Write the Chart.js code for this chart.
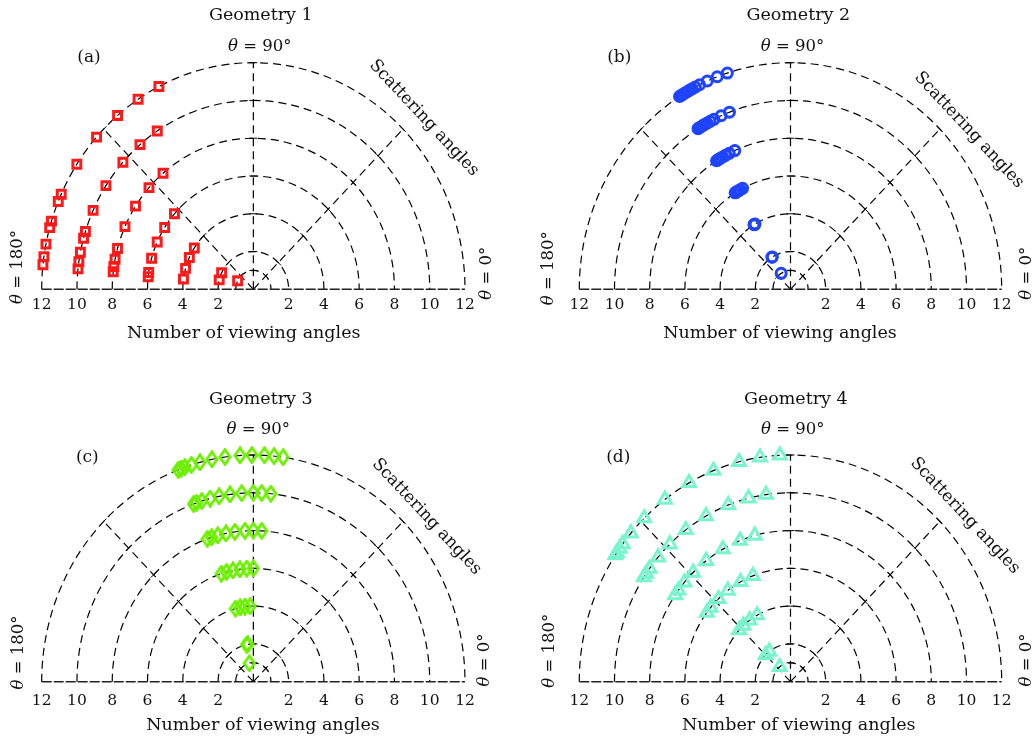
<!DOCTYPE html>
<html>
<head>
<meta charset="utf-8">
<script src="https://cdn.jsdelivr.net/npm/chart.js@4"></script>
<style>
  body { margin: 0; background: #fff; }
  #wrap { position: relative; width: 1035px; height: 739px; }
  #wrap canvas { position: absolute; }
</style>
</head>
<body>
<div id="wrap">
  <canvas id="g1" width="518" height="370" style="left:0;top:0"></canvas>
  <canvas id="g2" width="517" height="370" style="left:518px;top:0"></canvas>
  <canvas id="g3" width="518" height="369" style="left:0;top:370px"></canvas>
  <canvas id="g4" width="517" height="369" style="left:518px;top:370px"></canvas>
</div>
<script>
// number of viewing angles = radius of each ring of markers
var viewCounts = [1, 2, 4, 6, 8, 10, 12];

// scattering angles (degrees), one list per view count, same order as viewCounts
var geom1Angles = [
  [153],
  [154, 165.5],
  [146.8, 155.1, 163.9, 172.2],
  [138.2, 146.9, 155.3, 164.1, 171.5, 173.6],
  [129.8, 137.7, 146.6, 155.5, 164.3, 168.5, 171.3, 173.3],
  [123, 130, 137.7, 146.7, 155.3, 162.2, 164.3, 168.7, 171.6, 173.8],
  [116.5, 123, 129.9, 137.8, 146.5, 155.2, 157.2, 162.5, 164.2, 168.5, 171.7, 173.8]
];
var geom2Angles = [
  [122],
  [121.2, 121.8],
  [120.3, 120.6, 120.9, 121.2],
  [117, 118.5, 119.6, 120.5, 121.1, 121.6],
  [113.3, 115.8, 117.5, 118.8, 119.8, 120.6, 121.2, 121.7],
  [110.3, 113.2, 115.8, 117.2, 118.3, 119.2, 120, 120.7, 121.3, 121.7],
  [107.4, 110.3, 113.2, 115.5, 116.8, 117.8, 118.6, 119.4, 120.1, 120.8, 121.3, 121.7]
];
var geom3Angles = [
  [103],
  [99, 101],
  [92.7, 96.8, 100.8, 104.7],
  [90, 93.6, 97.3, 101.1, 104.7, 107.6],
  [86.6, 90, 93.4, 97.5, 101.2, 104.6, 107.2, 109],
  [84.3, 87.3, 90, 93.8, 97.6, 101.2, 104.2, 107, 108.8, 109.8],
  [81.9, 84.4, 87, 90.4, 93.6, 97.7, 101.3, 104.6, 107, 108.9, 110, 110.8]
];
var geom4Angles = [
  [128],
  [127, 135],
  [118.3, 125.5, 131.9, 136.8],
  [110.9, 118.2, 126.4, 133, 139.1, 142.4],
  [104.7, 111, 118.7, 126.8, 133.7, 138.9, 142.8, 145],
  [98, 103.8, 110.7, 118.7, 126.5, 133.3, 138.8, 143.2, 145.1, 146.4],
  [92.9, 98.3, 104.1, 111.4, 118.7, 126.5, 133.8, 139.1, 142.6, 144, 145.3, 146]
];

var tickValues = [-12, -10, -8, -6, -4, -2, 0, 2, 4, 6, 8, 10, 12];
var tickLabels = ['12', '10', '8', '6', '4', '2', '', '2', '4', '6', '8', '10', '12'];
var ringRadii = [1, 2, 4, 6, 8, 10, 12];
var spokeAngles = [45, 90, 135];
var panelTitles = ['Geometry 1', 'Geometry 2', 'Geometry 3', 'Geometry 4'];
var panelTags = ['(a)', '(b)', '(c)', '(d)'];

var SERIF = "'DejaVu Serif', serif";
var INK = '#111';
var axisH = 40;

// layout of each panel, canvas-local pixels
var boxes = [
  { w: 518, h: 370, x0: 41.7, x1: 465, y12: 62.7, y0: 289.3, tickPad: 6.5,
    title: [260.8, 15], tag: [89, 57.5], top90: [259.7, 46.7], scat: [424, 118],
    t180: [17.5, 267], t0: [486.7, 273.3], xlab: [243.7, 333.3] },
  { w: 517, h: 370, x0: 61.3, x1: 483.7, y12: 62.7, y0: 289.3, tickPad: 6.5,
    title: [280.3, 15], tag: [101.3, 57.3], top90: [274.5, 46.7], scat: [451, 130],
    t180: [30.3, 268.3], t0: [508.7, 273.3], xlab: [262, 333.3] },
  { w: 518, h: 369, x0: 41.7, x1: 465, y12: 85, y0: 311.7, tickPad: 9.5,
    title: [260.8, 29.3], tag: [87.3, 87.3], top90: [258.3, 60], scat: [426.7, 146.7],
    t180: [19, 282.5], t0: [485, 290], xlab: [263, 355] },
  { w: 517, h: 369, x0: 61.3, x1: 483.7, y12: 85, y0: 311.7, tickPad: 9.5,
    title: [277.8, 29.3], tag: [100.3, 87.3], top90: [274.7, 60], scat: [447, 145.7],
    t180: [32, 280.7], t0: [508.7, 290], xlab: [280.8, 355] }
];

// tall diamond marker for geometry 3
function diamondMarker(color) {
  var c = document.createElement('canvas');
  c.width = 14; c.height = 18;
  var g = c.getContext('2d');
  g.strokeStyle = color; g.lineWidth = 2.8;
  g.beginPath();
  g.moveTo(7, 1.6); g.lineTo(12.2, 9); g.lineTo(7, 16.4); g.lineTo(1.8, 9);
  g.closePath(); g.stroke();
  return c;
}

var markers = [
  { style: 'rect', radius: 5.6, width: 3, color: '#ff1a1a' },
  { style: 'circle', radius: 5, width: 3, color: '#1f44ff' },
  { style: diamondMarker('#6cf000'), radius: 7, width: 0, color: '#6cf000' },
  { style: 'triangle', radius: 7.4, width: 3, color: '#78f5cc' }
];

function thetaText(ctx, rest, x, y, rot) {
  var ital = 'italic 16.5px ' + SERIF, up = '16.5px ' + SERIF;
  ctx.save();
  ctx.translate(x, y);
  ctx.rotate(rot);
  ctx.font = ital; var w1 = ctx.measureText('θ').width;
  ctx.font = up; var w2 = ctx.measureText(rest).width;
  var s = -(w1 + w2) / 2;
  ctx.textAlign = 'left'; ctx.textBaseline = 'middle';
  ctx.font = ital; ctx.fillText('θ', s, 0);
  ctx.font = up; ctx.fillText(rest, s + w1, 0);
  ctx.restore();
}

var polarGrid = {
  id: 'polarGrid',
  beforeDatasetsDraw: function(chart) {
    var ctx = chart.ctx, x = chart.scales.x, y = chart.scales.y;
    var cx = x.getPixelForValue(0), cy = y.getPixelForValue(0);
    ctx.save();
    ctx.strokeStyle = '#000';
    ctx.lineWidth = 1.2;
    ctx.setLineDash([8, 5]);
    ringRadii.forEach(function(r) {
      var rx = x.getPixelForValue(r) - cx, ry = cy - y.getPixelForValue(r);
      ctx.beginPath();
      ctx.ellipse(cx, cy, rx, ry, 0, Math.PI, 2 * Math.PI);
      ctx.stroke();
    });
    var outer = ringRadii[ringRadii.length - 1];
    spokeAngles.forEach(function(a) {
      var t = a * Math.PI / 180;
      ctx.beginPath();
      ctx.moveTo(cx, cy);
      ctx.lineTo(x.getPixelForValue(outer * Math.cos(t)), y.getPixelForValue(outer * Math.sin(t)));
      ctx.stroke();
    });
    // little ticks where spokes cross rings
    ctx.setLineDash([]);
    ctx.lineWidth = 1;
    spokeAngles.forEach(function(a) {
      var t = a * Math.PI / 180;
      ringRadii.forEach(function(r) {
        var px = x.getPixelForValue(r * Math.cos(t)), py = y.getPixelForValue(r * Math.sin(t));
        var tx = -Math.sin(t), ty = -Math.cos(t);
        ctx.beginPath();
        ctx.moveTo(px - tx * 4, py - ty * 4);
        ctx.lineTo(px + tx * 4, py + ty * 4);
        ctx.stroke();
      });
    });
    // base line
    ctx.strokeStyle = '#222';
    ctx.lineWidth = 1.6;
    ctx.setLineDash([10, 2]);
    ctx.beginPath();
    ctx.moveTo(x.getPixelForValue(-outer), cy);
    ctx.lineTo(x.getPixelForValue(outer), cy);
    ctx.stroke();
    ctx.restore();
  }
};

function makeChart(id, k, angles) {
  var b = boxes[k], m = markers[k];
  var pts = [];
  viewCounts.forEach(function(n, i) {
    angles[i].forEach(function(a) {
      var t = a * Math.PI / 180;
      pts.push({ x: n * Math.cos(t), y: n * Math.sin(t) });
    });
  });

  var labels = {
    id: 'labels' + k,
    afterDraw: function(chart) {
      var ctx = chart.ctx;
      ctx.save();
      ctx.fillStyle = INK;
      ctx.textAlign = 'center';
      ctx.textBaseline = 'middle';
      ctx.font = '17.5px ' + SERIF;
      ctx.fillText(panelTitles[k], b.title[0], b.title[1]);
      ctx.fillText('Number of viewing angles', b.xlab[0], b.xlab[1]);
      ctx.font = '17px ' + SERIF;
      ctx.fillText(panelTags[k], b.tag[0], b.tag[1]);
      ctx.save();
      ctx.translate(b.scat[0], b.scat[1]);
      ctx.rotate(47 * Math.PI / 180);
      ctx.fillText('Scattering angles', 0, 0);
      ctx.restore();
      thetaText(ctx, ' = 90°', b.top90[0], b.top90[1], 0);
      thetaText(ctx, ' = 180°', b.t180[0], b.t180[1], -Math.PI / 2);
      thetaText(ctx, ' = 0°', b.t0[0], b.t0[1], -Math.PI / 2);
      ctx.restore();
    }
  };

  return new Chart(document.getElementById(id), {
    type: 'scatter',
    data: {
      datasets: [{
        data: pts,
        pointStyle: m.style,
        pointRadius: m.radius,
        pointBorderWidth: m.width,
        pointBorderColor: m.color,
        pointBackgroundColor: 'rgba(0,0,0,0)',
        clip: false
      }]
    },
    options: {
      responsive: false,
      animation: false,
      events: [],
      layout: {
        padding: { left: b.x0, right: b.w - b.x1, top: b.y12, bottom: b.h - b.y0 - axisH }
      },
      plugins: { legend: { display: false }, tooltip: { enabled: false } },
      scales: {
        x: {
          type: 'linear', min: -12, max: 12,
          afterBuildTicks: function(s) { s.ticks = tickValues.map(function(v) { return { value: v }; }); },
          afterFit: function(s) { s.height = axisH; },
          grid: { display: false, drawTicks: false },
          border: { display: false },
          ticks: {
            autoSkip: false, maxRotation: 0, padding: b.tickPad, color: INK,
            font: { family: SERIF, size: 15.5 },
            callback: function(v, i) { return tickLabels[i]; }
          }
        },
        y: { type: 'linear', min: 0, max: 12, display: false }
      }
    },
    plugins: [polarGrid, labels]
  });
}

makeChart('g1', 0, geom1Angles);
makeChart('g2', 1, geom2Angles);
makeChart('g3', 2, geom3Angles);
makeChart('g4', 3, geom4Angles);
</script>
</body>
</html>
